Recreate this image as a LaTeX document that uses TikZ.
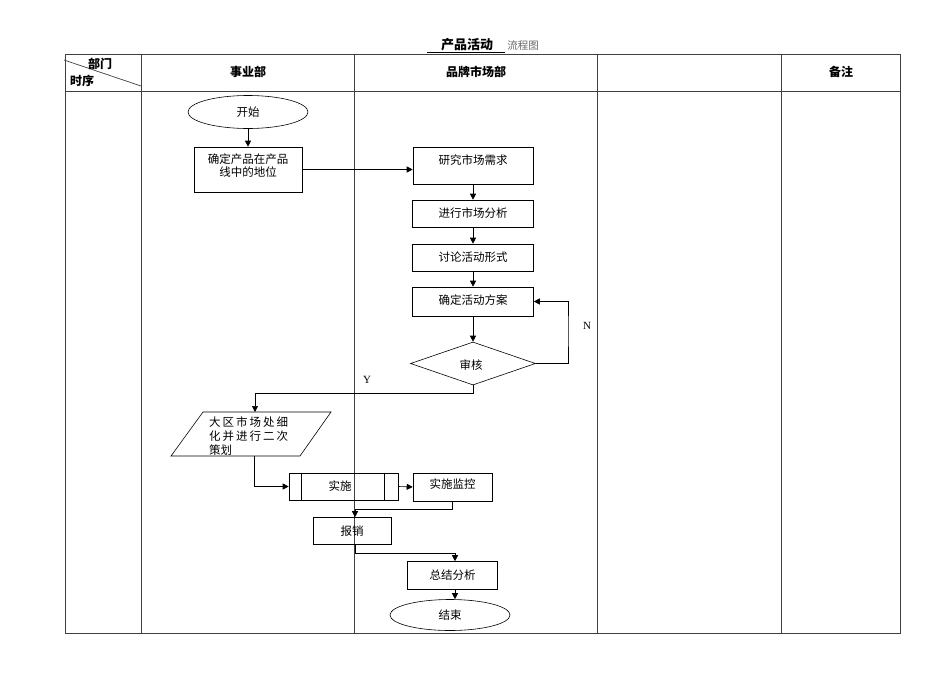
\documentclass[tikz,border=0pt]{standalone}
\usepackage{fontspec}
\setmainfont{Liberation Serif}
\newfontfamily\cjk{Noto Sans CJK SC}
\usetikzlibrary{shapes.geometric,arrows.meta,calc}
\newcommand\ls{\hspace{2pt}}
\begin{document}
\begin{tikzpicture}[x=1pt,y=-1pt,
  every node/.style={font=\cjk\fontsize{11.5}{13}\selectfont, inner sep=0pt},
  box/.style={draw=black, line width=0.6pt, rectangle, align=center},
  term/.style={draw=black, ellipse, line width=0.6pt},
  arr/.style={line width=0.6pt, -{Triangle[length=6pt,width=6pt]}},
  ln/.style={line width=0.6pt},
  tbl/.style={line width=0.7pt, draw=black!75},
  hdr/.style={font=\cjk\bfseries\fontsize{12}{14}\selectfont},
  lat/.style={font=\rmfamily\fontsize{11}{13}\selectfont}
]
\useasboundingbox (0,0) rectangle (950,672);
% title
\node[font=\cjk\bfseries\fontsize{13}{14}\selectfont] (title) at (467,45) {产品活动};
\draw[ln] (427,52) -- (505,52);
\node[font=\cjk\fontsize{10.5}{12}\selectfont, text=black!60] (title2) at (523,46) {流程图};
% table
\draw[tbl] (65,54) rectangle (900,633);
\draw[tbl] (65,91) -- (900,91);
\foreach \x in {141,354,597,781} \draw[tbl] (\x,54) -- (\x,633);
\draw[tbl] (64,60) -- (141,86);
\node[hdr] (h0a) at (100,64) {部门};
\node[hdr] (h0b) at (82,81) {时序};
\node[hdr] (h1) at (248,72) {事业部};
\node[hdr] (h2) at (476,72) {品牌市场部};
\node[hdr] (h4) at (841,72) {备注};
% flow
\node[term, minimum width=120, minimum height=33] (start) at (248,112) {开始};
\node[box, minimum width=108, minimum height=45] (b1) at (248,169.5) {};
\node[align=center] (b1t) at (248,166) {确定产品在产品\\线中的地位};
\node[box, minimum width=120, minimum height=37] (b2) at (473,165.5) {};
\node (b2t) at (473,160) {研究市场需求};
\node[box, minimum width=121, minimum height=27] (b3) at (473,213.5) {进行市场分析};
\node[box, minimum width=121, minimum height=27] (b4) at (473,257.5) {讨论活动形式};
\node[box, minimum width=121, minimum height=29] (b5) at (473,301.5) {};
\node (b5t) at (473,300) {确定活动方案};
\node[draw=black, line width=0.6pt, diamond, minimum width=125, minimum height=43] (d1) at (473,363.5) {};
\node (d1t) at (471,365) {审核};
\coordinate (nloop) at (568,330);
\node[lat] (nlab) at (587,326) {N};
\node[lat] (ylab) at (367,380) {Y};
\coordinate (ycorner) at (255,393);
% parallelogram
\coordinate (pTL) at (203,412);
\coordinate (pTR) at (331,412);
\coordinate (pBR) at (300,456);
\coordinate (pBL) at (171,456);
\coordinate (ptop) at (255,412);
\coordinate (pbot) at (254,456);
\draw[ln] (pTL) -- (pTR) -- (pBR) -- (pBL) -- cycle;
\node[anchor=north west, align=left, font=\cjk\fontsize{11.5}{14}\selectfont] (p1) at (209,416.5)
  {大\ls 区\ls 市\ls 场\ls 处\ls 细\\化\ls 并\ls 进\ls 行\ls 二\ls 次\\策划};
\node[box, minimum width=109, minimum height=27] (s1) at (343.5,486.5) {};
\node (s1t) at (340,486) {实施};
\draw[ln] ($(s1.north west)+(13,0)$) -- ($(s1.south west)+(13,0)$);
\draw[ln] ($(s1.north east)+(-14,0)$) -- ($(s1.south east)+(-14,0)$);
\node[box, minimum width=79, minimum height=28] (s2) at (452.5,487) {};
\node (s2t) at (452.5,484) {实施监控};
\coordinate (c1) at (355,509);
\node[box, minimum width=78, minimum height=27] (r1) at (352,531) {报销};
\coordinate (c2) at (455,553);
\node[box, minimum width=90, minimum height=28] (t1) at (452.5,575.5) {总结分析};
\node[term, minimum width=120, minimum height=31] (end) at (450,615) {结束};
% connectors
\draw[arr] (start.south) -- (b1.north);
\draw[arr] (b1.east) -- (b1.east -| b2.west);
\draw[arr] (b2.south) -- (b3.north);
\draw[arr] (b3.south) -- (b4.north);
\draw[arr] (b4.south) -- (b5.north);
\draw[arr] (b5.south) -- (d1.north);
\draw[arr] (d1.east) -| (nloop) |- (b5.east);
\draw[arr] (d1.south) |- (ycorner) -- (ptop);
\draw[arr] (pbot) |- (s1.west);
\draw[arr] (s1.east) -- (s2.west);
\draw[arr] (s2.south) |- (c1) -- (c1 |- r1.north);
\draw[arr] (r1.south -| c1) |- (c2) -- (c2 |- t1.north);
\draw[arr] (c2 |- t1.south) -- (c2 |- end.north);
\end{tikzpicture}
\end{document}
